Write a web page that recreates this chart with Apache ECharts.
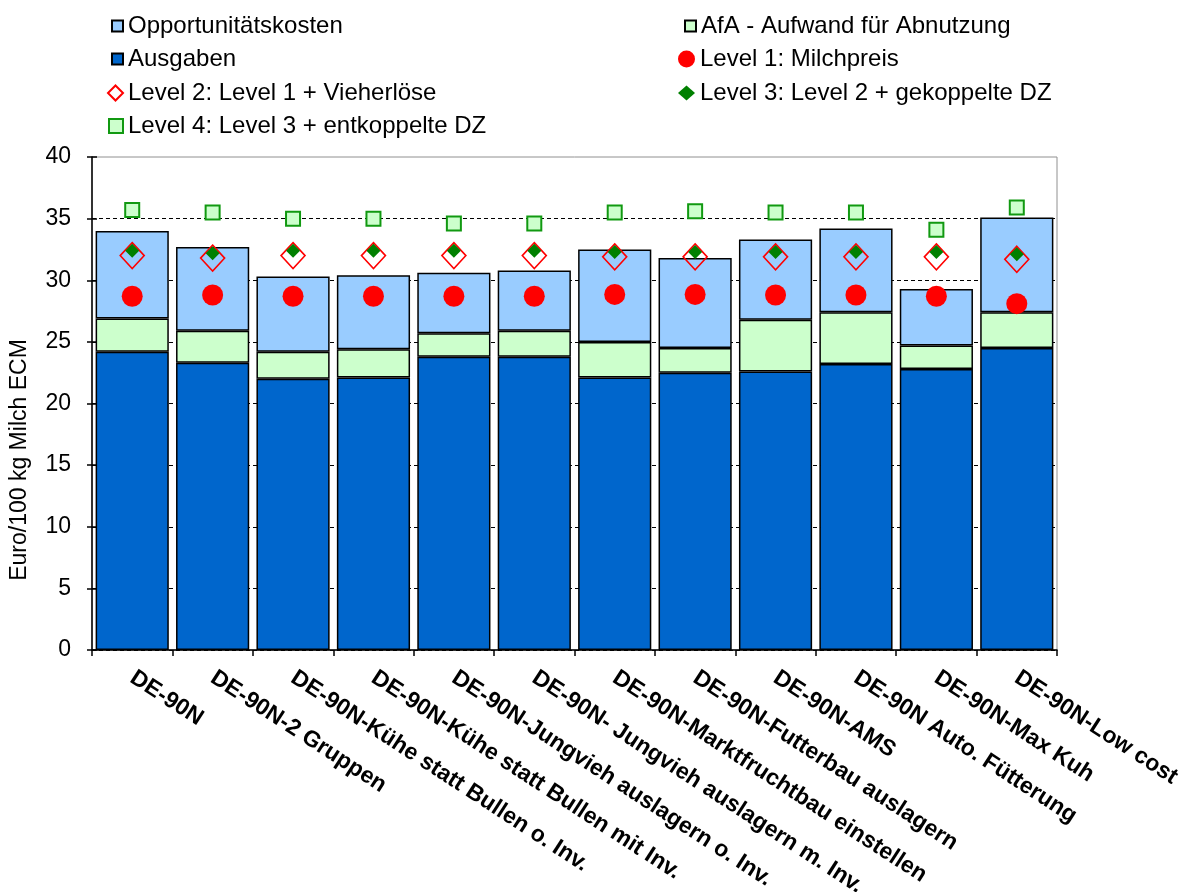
<!DOCTYPE html>
<html>
<head>
<meta charset="utf-8">
<script src="https://cdn.jsdelivr.net/npm/echarts@6/dist/echarts.min.js"></script>
<style>
  html, body { margin: 0; padding: 0; background: #fff; }
  #chart { width: 1204px; height: 892px; }
</style>
</head>
<body>
<div id="chart"></div>
<script>
// Farm scenarios (categories on the x axis)
const categories = [
  'DE-90N',
  'DE-90N-2 Gruppen',
  'DE-90N-Kühe statt Bullen o. Inv.',
  'DE-90N-Kühe statt Bullen mit Inv.',
  'DE-90N-Jungvieh auslagern o. Inv.',
  'DE-90N- Jungvieh auslagern m. Inv.',
  'DE-90N-Marktfruchtbau einstellen',
  'DE-90N-Futterbau auslagern',
  'DE-90N-AMS',
  'DE-90N Auto. Fütterung',
  'DE-90N-Max Kuh',
  'DE-90N-Low cost'
];

// Cost components (stacked bars), Euro/100 kg Milch ECM
const ausgaben           = [24.2, 23.3, 22.0, 22.1, 23.8, 23.8, 22.1, 22.5, 22.6, 23.2, 22.8, 24.5];
const afa                = [2.7, 2.6, 2.2, 2.3, 1.9, 2.1, 2.9, 2.0, 4.2, 4.2, 1.9, 2.9];
const opportunitaet      = [7.1, 6.8, 6.1, 6.0, 4.9, 4.9, 7.5, 7.3, 6.5, 6.8, 4.6, 7.7];

// Revenue levels (markers)
const level1 = [28.7, 28.8, 28.7, 28.7, 28.7, 28.7, 28.85, 28.85, 28.8, 28.8, 28.7, 28.1];
const level2 = [32.0, 31.8, 32.0, 32.0, 32.0, 32.0, 31.9, 31.9, 31.9, 31.9, 31.9, 31.7];
const level3 = [32.4, 32.2, 32.4, 32.4, 32.4, 32.4, 32.3, 32.3, 32.3, 32.3, 32.3, 32.1];
const level4 = [35.7, 35.5, 35.0, 35.0, 34.6, 34.6, 35.5, 35.6, 35.5, 35.5, 34.1, 35.9];

const yTicks = { min: 0, max: 40, interval: 5 };

const NAMES = {
  opp: 'Opportunitätskosten',
  afa: 'AfA - Aufwand für Abnutzung',
  aus: 'Ausgaben',
  l1: 'Level 1: Milchpreis',
  l2: 'Level 2: Level 1 + Vieherlöse',
  l3: 'Level 3: Level 2 + gekoppelte DZ',
  l4: 'Level 4: Level 3 + entkoppelte DZ'
};

const FONT = '"Liberation Sans", Arial, sans-serif';
const barBorder = { borderColor: '#000', borderWidth: 1.5 };

// One legend block per entry so the two-column layout can be placed freely
const legendSlots = [
  { name: NAMES.opp, x: 127, cy: 26, w: 11, h: 11, icon: 'rect' },
  { name: NAMES.afa, x: 700, cy: 26, w: 11, h: 11, icon: 'rect' },
  { name: NAMES.aus, x: 127, cy: 59, w: 11, h: 11, icon: 'rect' },
  { name: NAMES.l1,  x: 700, cy: 59, w: 17, h: 17 },
  { name: NAMES.l2,  x: 127, cy: 93, w: 15, h: 15 },
  { name: NAMES.l3,  x: 700, cy: 93, w: 17, h: 15 },
  { name: NAMES.l4,  x: 127, cy: 126, w: 14, h: 14 }
];

const legends = legendSlots.map(s => ({
  data: [s.icon ? { name: s.name, icon: s.icon } : s.name],
  left: s.x - 5 - s.w,
  top: s.cy - 13,
  padding: 0,
  itemWidth: s.w,
  itemHeight: s.h,
  itemGap: 0,
  selectedMode: false,
  textStyle: { fontFamily: FONT, fontSize: 24, color: '#000', lineHeight: 26 }
}));

const option = {
  animation: false,
  backgroundColor: '#fff',
  legend: legends,
  grid: {
    left: 92, right: 147, top: 157, bottom: 242,
    outerBoundsMode: 'none',
    containLabel: false,
    show: true, borderColor: '#909090', borderWidth: 1
  },
  xAxis: {
    type: 'category',
    data: categories,
    axisLine: { lineStyle: { color: '#000', width: 1.5 } },
    axisTick: { show: true, interval: 0, length: 6, lineStyle: { color: '#000', width: 1.5 } },
    axisLabel: {
      interval: 0,
      rotate: -33,
      margin: 26,
      color: '#000',
      fontFamily: FONT,
      fontWeight: 'bold',
      fontSize: 23
    }
  },
  yAxis: [
    {
      type: 'value',
      min: yTicks.min, max: yTicks.max, interval: yTicks.interval,
      axisLine: { show: true, lineStyle: { color: '#000', width: 1.5 } },
      axisTick: { show: true, length: 5, lineStyle: { color: '#000', width: 1.5 } },
      axisLabel: { margin: 21, color: '#000', fontFamily: FONT, fontSize: 23 },
      splitLine: {
        show: true, showMaxLine: false,
        lineStyle: { color: '#000', width: 1, type: [4, 3] }
      }
    },
    {
      // inner half of the crossing tick marks
      type: 'value', position: 'left',
      min: yTicks.min, max: yTicks.max, interval: yTicks.interval,
      axisLine: { show: false },
      axisTick: { show: true, inside: true, length: 5, lineStyle: { color: '#000', width: 1.5 } },
      axisLabel: { show: false },
      splitLine: { show: false }
    }
  ],
  graphic: [{
    type: 'text',
    x: 20, y: 460,
    rotation: Math.PI / 2,
    style: {
      text: 'Euro/100 kg Milch ECM',
      fontFamily: FONT, fontSize: 23, fill: '#000',
      align: 'center', verticalAlign: 'middle'
    }
  }],
  series: [
    {
      name: NAMES.aus, type: 'bar', stack: 'k', data: ausgaben,
      barCategoryGap: '9%',
      itemStyle: Object.assign({ color: '#0066CC' }, barBorder)
    },
    {
      name: NAMES.afa, type: 'bar', stack: 'k', data: afa,
      itemStyle: Object.assign({ color: '#CCFFCC' }, barBorder)
    },
    {
      name: NAMES.opp, type: 'bar', stack: 'k', data: opportunitaet,
      itemStyle: Object.assign({ color: '#99CCFF' }, barBorder)
    },
    {
      name: NAMES.l1, type: 'scatter', data: level1,
      symbol: 'circle', symbolSize: 21,
      itemStyle: { color: '#FF0000', opacity: 1 }
    },
    {
      name: NAMES.l2, type: 'scatter', data: level2,
      symbol: 'diamond', symbolSize: [24, 26],
      itemStyle: { color: 'rgba(0,0,0,0)', borderColor: '#FF0000', borderWidth: 1.6, opacity: 1 }
    },
    {
      name: NAMES.l3, type: 'scatter', data: level3,
      symbol: 'diamond', symbolSize: 14,
      itemStyle: { color: '#008000', opacity: 1 }
    },
    {
      name: NAMES.l4, type: 'scatter', data: level4,
      symbol: 'rect', symbolSize: 14,
      itemStyle: { color: '#CCFFCC', borderColor: '#119911', borderWidth: 2, opacity: 1 }
    }
  ]
};

const chart = echarts.init(document.getElementById('chart'), null, { renderer: 'canvas' });
chart.setOption(option);
</script>
</body>
</html>
